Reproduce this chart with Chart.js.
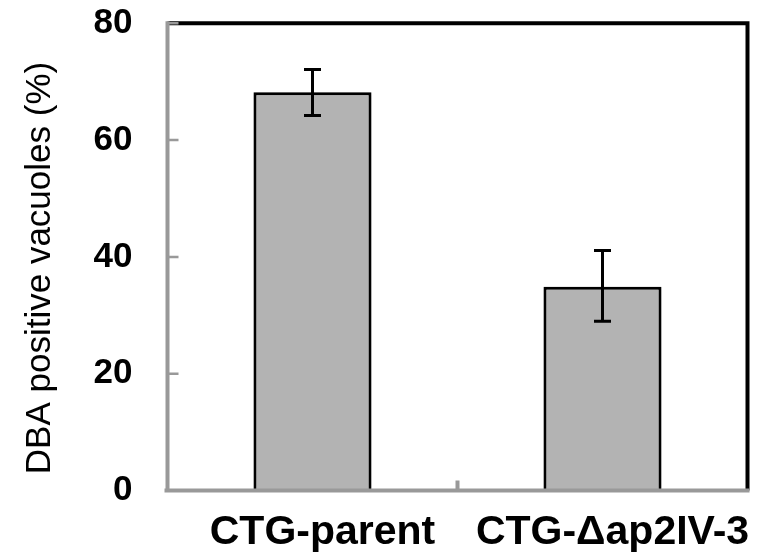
<!DOCTYPE html>
<html>
<head>
<meta charset="utf-8">
<script src="https://cdn.jsdelivr.net/npm/chart.js@4/dist/chart.umd.min.js"></script>
<style>
html,body{margin:0;padding:0;background:#fff;}
#wrap{width:757px;height:557px;position:relative;}
</style>
</head>
<body>
<div id="wrap"><canvas id="c" width="757" height="557"></canvas></div>
<script>
const categories = ['CTG-parent', 'CTG-\u0394ap2IV-3'];
const values = [68.2, 34.9];
const errHigh = [72.1, 41.1];
const errLow = [64.2, 29.0];
const yTicks = [0, 20, 40, 60, 80];
const yTitle = 'DBA positive vacuoles (%)';

const GRAY = '#999999';

const frameAndErrors = {
  id: 'frameAndErrors',
  beforeDatasetsDraw(chart) {
    const ctx = chart.ctx;
    ctx.save();
    ctx.shadowColor = 'rgba(0,0,0,0.25)';
    ctx.shadowBlur = 5;
  },
  afterDatasetsDraw(chart) {
    const ctx = chart.ctx;
    ctx.restore();
    const y = chart.scales.y;
    const meta = chart.getDatasetMeta(0);
    ctx.save();
    ctx.strokeStyle = '#000';
    ctx.lineWidth = 3;
    ctx.lineCap = 'butt';
    meta.data.forEach((bar, i) => {
      const cx = bar.x;
      const yh = y.getPixelForValue(errHigh[i]);
      const yl = y.getPixelForValue(errLow[i]);
      ctx.beginPath();
      ctx.moveTo(cx, yh); ctx.lineTo(cx, yl);
      ctx.moveTo(cx - 8.5, yh); ctx.lineTo(cx + 8.5, yh);
      ctx.moveTo(cx - 8.5, yl); ctx.lineTo(cx + 8.5, yl);
      ctx.stroke();
    });
    ctx.restore();
  },
  afterDraw(chart) {
    const ctx = chart.ctx;
    const a = chart.chartArea;
    const y = chart.scales.y, x = chart.scales.x;
    ctx.save();
    ctx.strokeStyle = '#000';
    ctx.lineWidth = 4;
    ctx.beginPath();
    ctx.moveTo(a.left, a.top); ctx.lineTo(a.right, a.top); ctx.lineTo(a.right, a.bottom);
    ctx.stroke();
    ctx.strokeStyle = GRAY;
    ctx.lineWidth = 4;
    ctx.beginPath();
    ctx.moveTo(a.left, a.top - 2); ctx.lineTo(a.left, a.bottom);
    ctx.moveTo(a.left - 3, a.bottom); ctx.lineTo(a.right + 2, a.bottom);
    ctx.stroke();
    ctx.lineWidth = 2.5;
    ctx.beginPath();
    yTicks.forEach(v => {
      if (v === 0) return;
      const py = y.getPixelForValue(v);
      ctx.moveTo(a.left, py); ctx.lineTo(a.left + 11, py);
    });
    ctx.stroke();
    ctx.lineWidth = 4;
    ctx.beginPath();
    const mx = x.getPixelForValue(0.5);
    ctx.moveTo(mx, a.bottom); ctx.lineTo(mx, a.bottom - 10);
    ctx.stroke();
    ctx.fillStyle = '#000';
    ctx.font = '35px "Liberation Sans", Arial, sans-serif';
    ctx.textAlign = 'center';
    ctx.textBaseline = 'alphabetic';
    ctx.translate(50, 268);
    ctx.rotate(-Math.PI / 2);
    ctx.fillText(yTitle, 0, 0);
    ctx.restore();
  }
};

new Chart(document.getElementById('c'), {
  type: 'bar',
  data: {
    labels: categories,
    datasets: [{
      data: values,
      backgroundColor: '#b3b3b3',
      borderColor: '#000',
      borderWidth: 3,
      borderSkipped: 'bottom',
      barPercentage: 0.407,
      categoryPercentage: 1.0
    }]
  },
  options: {
    responsive: false,
    animation: false,
    devicePixelRatio: 1,
    layout: { padding: { left: 0, top: 23.3, right: 9.5, bottom: 0 } },
    plugins: { legend: { display: false }, tooltip: { enabled: false } },
    scales: {
      x: {
        grid: { display: false, drawTicks: false },
        border: { display: false },
        ticks: {
          color: '#000',
          font: { family: '"Liberation Sans", Arial, sans-serif', size: 41, weight: 'bold' },
          padding: 18,
          labelOffset: 10,
          maxRotation: 0,
          autoSkip: false
        },
        afterFit(s) { s.height = 557 - 490.5; s.paddingLeft = 0; s.paddingRight = 0; }
      },
      y: {
        min: 0, max: 80,
        afterBuildTicks(s) { s.ticks = yTicks.map(v => ({ value: v })); },
        grid: { display: false, drawTicks: false },
        border: { display: false },
        ticks: {
          color: '#000',
          font: { family: '"Liberation Sans", Arial, sans-serif', size: 35, weight: 'bold' },
          padding: 35
        },
        afterFit(s) { s.width = 167.5; s.paddingTop = 0; s.paddingBottom = 0; }
      }
    }
  },
  plugins: [frameAndErrors]
});
</script>
</body>
</html>
